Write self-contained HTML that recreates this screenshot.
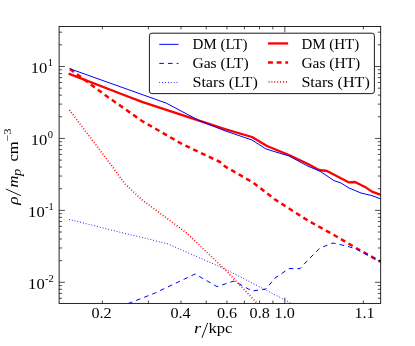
<!DOCTYPE html>
<html><head><meta charset="utf-8"><title>chart</title>
<style>html,body{margin:0;padding:0;background:#fff;}body{width:415px;height:346px;overflow:hidden;position:relative;font-family:"Liberation Serif",serif;}</style>
</head><body>
<svg width="415" height="346" viewBox="0 0 415 346" style="position:absolute;left:0;top:0;will-change:transform">
<defs><clipPath id="c"><rect x="59.1" y="26.5" width="321.59999999999997" height="276.9"/></clipPath></defs>
<rect width="415" height="346" fill="#fff"/>
<g clip-path="url(#c)" fill="none" stroke-linejoin="round">
<polyline points="68.6,73.6 124.0,95.0 142.0,101.8 225.0,129.2 252.0,137.0 267.0,146.0 289.0,155.0 308.0,164.0 319.0,170.0 327.0,171.0 349.0,182.4 355.0,182.0 366.0,187.6 372.0,191.6 381.0,195.0" stroke="#ff0000" stroke-width="2.3"/>
<polyline points="70.0,69.0 105.0,95.0 142.0,121.0 156.0,129.0 182.0,144.0 220.0,162.0 225.0,166.4 253.0,182.5 275.0,199.5 308.0,220.6 334.0,235.0 356.0,248.0 381.0,262.0" stroke="#ff0000" stroke-width="2.5" stroke-dasharray="4.9,3.77"/>
<polyline points="69.4,110.0 110.0,163.5 125.0,184.0 142.0,199.8 186.0,232.5 225.0,269.5 256.0,302.0 258.0,304.0" stroke="#ff0000" stroke-width="1.7" stroke-dasharray="0.9,1.99"/>
<polyline points="69.4,68.6 142.0,94.5 166.0,103.0 200.0,121.0 225.0,130.8 252.0,140.0 266.0,149.0 289.0,156.0 308.0,166.2 320.0,171.2 334.0,180.6 341.0,183.0 349.0,188.0 361.0,193.0 372.0,195.6 381.0,199.0" stroke="#0000ff" stroke-width="1"/>
<polyline points="128.0,303.6 142.0,298.2 155.5,292.8 195.0,274.0 217.0,286.6 225.0,284.0 234.0,281.0 252.0,291.0 266.0,289.0 275.0,278.0 289.0,268.6 300.0,268.6 308.0,260.0 320.0,248.0 333.0,243.0 348.0,246.4 356.0,249.0 381.0,262.0" stroke="#0000ff" stroke-width="1" stroke-dasharray="4.6,4.07"/>
<polyline points="69.0,219.4 123.0,233.0 142.0,237.4 168.0,244.0 225.0,269.0 285.0,300.0 291.0,303.2" stroke="#0000ff" stroke-width="1" stroke-dasharray="0.85,2.04"/>
</g>
<rect x="59.1" y="26.5" width="321.59999999999997" height="276.9" fill="none" stroke="#000" stroke-width="0.85"/>
<path d="M59.1 298.25h2.9M380.7 298.25h-2.9M59.1 293.43h2.9M380.7 293.43h-2.9M59.1 289.26h2.9M380.7 289.26h-2.9M59.1 285.58h2.9M380.7 285.58h-2.9M59.1 282.29h5.8M380.7 282.29h-5.8M59.1 260.64h2.9M380.7 260.64h-2.9M59.1 247.97h2.9M380.7 247.97h-2.9M59.1 238.98h2.9M380.7 238.98h-2.9M59.1 232.01h2.9M380.7 232.01h-2.9M59.1 226.32h2.9M380.7 226.32h-2.9M59.1 221.50h2.9M380.7 221.50h-2.9M59.1 217.33h2.9M380.7 217.33h-2.9M59.1 213.65h2.9M380.7 213.65h-2.9M59.1 210.36h5.8M380.7 210.36h-5.8M59.1 188.71h2.9M380.7 188.71h-2.9M59.1 176.04h2.9M380.7 176.04h-2.9M59.1 167.05h2.9M380.7 167.05h-2.9M59.1 160.08h2.9M380.7 160.08h-2.9M59.1 154.39h2.9M380.7 154.39h-2.9M59.1 149.57h2.9M380.7 149.57h-2.9M59.1 145.40h2.9M380.7 145.40h-2.9M59.1 141.72h2.9M380.7 141.72h-2.9M59.1 138.43h5.8M380.7 138.43h-5.8M59.1 116.78h2.9M380.7 116.78h-2.9M59.1 104.11h2.9M380.7 104.11h-2.9M59.1 95.12h2.9M380.7 95.12h-2.9M59.1 88.15h2.9M380.7 88.15h-2.9M59.1 82.46h2.9M380.7 82.46h-2.9M59.1 77.64h2.9M380.7 77.64h-2.9M59.1 73.47h2.9M380.7 73.47h-2.9M59.1 69.79h2.9M380.7 69.79h-2.9M59.1 66.50h5.8M380.7 66.50h-5.8M59.1 44.85h2.9M380.7 44.85h-2.9M59.1 32.18h2.9M380.7 32.18h-2.9M102.40 303.4v-2.9M102.40 26.5v2.9M148.36 303.4v-2.9M148.36 26.5v2.9M180.97 303.4v-2.9M180.97 26.5v2.9M206.26 303.4v-2.9M206.26 26.5v2.9M226.93 303.4v-2.9M226.93 26.5v2.9M244.40 303.4v-2.9M244.40 26.5v2.9M259.54 303.4v-2.9M259.54 26.5v2.9M272.89 303.4v-2.9M272.89 26.5v2.9M284.83 303.4v-5.8M284.83 26.5v5.8M363.40 303.4v-2.9M363.40 26.5v2.9" stroke="#000" stroke-width="0.7" fill="none"/>
<rect x="149.4" y="33.2" width="225" height="60.4" rx="2.5" ry="2.5" fill="#fff" stroke="#000" stroke-width="0.9"/>
<path d="M159.3 44.35H178.5" stroke="#0000ff" stroke-width="1"/>
<path d="M159.3 63.4H178.5" stroke="#0000ff" stroke-width="1" stroke-dasharray="4.6,4.07" />
<path d="M159.3 82.45H178.5" stroke="#0000ff" stroke-width="1" stroke-dasharray="0.85,2.04"/>
<path d="M268.0 43.45H288.1" stroke="#ff0000" stroke-width="2.3"/>
<path d="M268.0 62.5H288.1" stroke="#ff0000" stroke-width="2.5" stroke-dasharray="4.9,3.77"/>
<path d="M268.6 81.85000000000001H288.1" stroke="#ff0000" stroke-width="1.7" stroke-dasharray="0.9,1.99"/>
<g font-family="'Liberation Serif', serif" fill="#000">
<text x="192.4" y="48.9" font-size="13.6" text-anchor="start" textLength="55.2" lengthAdjust="spacingAndGlyphs">DM (LT)</text>
<text x="192.4" y="67.9" font-size="13.6" text-anchor="start" textLength="56.2" lengthAdjust="spacingAndGlyphs">Gas (LT)</text>
<text x="192.4" y="86.9" font-size="13.6" text-anchor="start" textLength="65.4" lengthAdjust="spacingAndGlyphs">Stars (LT)</text>
<text x="301.4" y="48.9" font-size="13.6" text-anchor="start" textLength="57.8" lengthAdjust="spacingAndGlyphs">DM (HT)</text>
<text x="301.4" y="67.9" font-size="13.6" text-anchor="start" textLength="58.8" lengthAdjust="spacingAndGlyphs">Gas (HT)</text>
<text x="301.4" y="86.9" font-size="13.6" text-anchor="start" textLength="68.4" lengthAdjust="spacingAndGlyphs">Stars (HT)</text>
<text x="101.5" y="318.4" font-size="14.4" text-anchor="middle" textLength="20.2" lengthAdjust="spacingAndGlyphs">0.2</text>
<text x="180.5" y="318.4" font-size="14.4" text-anchor="middle" textLength="20.2" lengthAdjust="spacingAndGlyphs">0.4</text>
<text x="227.1" y="318.4" font-size="14.4" text-anchor="middle" textLength="20.2" lengthAdjust="spacingAndGlyphs">0.6</text>
<text x="259.7" y="318.4" font-size="14.4" text-anchor="middle" textLength="20.2" lengthAdjust="spacingAndGlyphs">0.8</text>
<text x="284.7" y="318.4" font-size="14.4" text-anchor="middle" textLength="20.2" lengthAdjust="spacingAndGlyphs">1.0</text>
<text x="364.6" y="318.4" font-size="14.4" text-anchor="middle" textLength="20.2" lengthAdjust="spacingAndGlyphs">1.1</text>
<text x="30.8" y="72.9" font-size="15" textLength="16.6" lengthAdjust="spacingAndGlyphs">10</text>
<text x="47.7" y="66.2" font-size="10.5" >1</text>
<text x="30.8" y="144.8" font-size="15" textLength="16.6" lengthAdjust="spacingAndGlyphs">10</text>
<text x="47.7" y="138.1" font-size="10.5" >0</text>
<text x="28.1" y="216.8" font-size="15" textLength="16.6" lengthAdjust="spacingAndGlyphs">10</text>
<text x="45.0" y="210.1" font-size="10.5" >-1</text>
<text x="28.1" y="288.7" font-size="15" textLength="16.6" lengthAdjust="spacingAndGlyphs">10</text>
<text x="45.0" y="282.0" font-size="10.5" >-2</text>
<text x="194.0" y="333.3" font-size="15.5" font-style="italic" textLength="7.2" lengthAdjust="spacingAndGlyphs">r</text>
<path d="M201.9 337.8L207.7 322.8" stroke="#000" stroke-width="0.9" fill="none"/>
<text x="208.4" y="333.3" font-size="15" textLength="24" lengthAdjust="spacingAndGlyphs">kpc</text>
<g transform="translate(17.6,204.6) rotate(-90)">
<text x="-0.2" y="0" font-size="15.5" font-style="italic" textLength="8.4" lengthAdjust="spacingAndGlyphs">ρ</text>
<path d="M8.9 3.2L15.6 -11.7" stroke="#000" stroke-width="0.9" fill="none"/>
<text x="17.0" y="0" font-size="15.5" font-style="italic" textLength="12.0" lengthAdjust="spacingAndGlyphs">m</text>
<text x="28.6" y="3.4" font-size="11.5" font-style="italic" textLength="7.2" lengthAdjust="spacingAndGlyphs">p</text>
<text x="43.0" y="0" font-size="15" textLength="20.2" lengthAdjust="spacingAndGlyphs">cm</text>
<text x="63.3" y="-6.6" font-size="10.5" textLength="12.7" lengthAdjust="spacingAndGlyphs">−3</text>
</g>
</g>
</svg>
</body></html>
